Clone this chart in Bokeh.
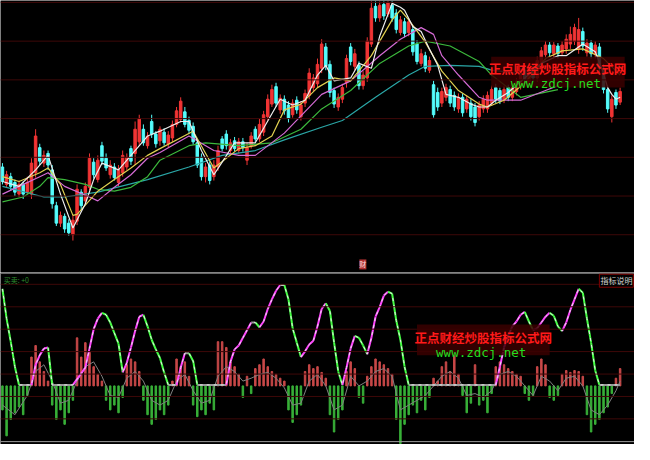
from bokeh.plotting import figure
from bokeh.layouts import column
from bokeh.models import Range1d, Span, Label, BoxAnnotation, ColumnDataSource
from bokeh.embed import file_html
from bokeh.resources import INLINE

# ---------------- price candles (one per trading day) ----------------
opens = [12.8, 11.0, 11.8, 11.2, 10.0, 11.0, 10.2, 10.0, 12.2, 14.8,
         13.2, 14.2, 12.5, 8.8, 7.0, 7.7, 7.0, 5.8, 7.2, 10.2,
         9.3, 10.7, 13.3, 11.5, 15.0, 13.7, 12.0, 12.8, 11.2, 12.2,
         12.8, 14.7, 14.2, 15.4, 16.7, 15.0, 17.5, 16.2, 15.5, 16.4,
         15.2, 15.8, 17.2, 17.7, 18.5, 17.6, 17.0, 15.3, 13.8, 11.8,
         13.0, 11.8, 12.8, 15.7, 16.2, 14.5, 15.5, 14.5, 15.4, 13.5,
         15.0, 16.7, 15.7, 16.4, 18.0, 19.3, 21.1, 18.7, 19.8, 19.2,
         18.2, 19.7, 18.0, 19.4, 20.2, 21.0, 21.4, 23.0, 25.2, 23.4,
         20.7, 19.0, 19.8, 21.5, 25.2, 23.2, 23.3, 21.2, 22.0, 25.5,
         29.4, 28.2, 29.6, 28.6, 29.5, 28.7, 26.7, 27.8, 26.7, 27.0,
         25.5, 23.5, 24.3, 22.8, 21.3, 20.5, 19.4, 20.0, 20.8, 20.2,
         18.8, 20.0, 18.8, 19.4, 19.0, 18.0, 18.8, 18.8, 19.4, 21.0,
         20.7, 19.8, 21.0, 20.0, 20.6, 21.2, 22.8, 21.6, 23.0, 22.0,
         23.4, 24.4, 25.4, 24.5, 25.3, 24.6, 25.0, 25.5, 25.8, 25.0,
         26.8, 24.6, 25.6, 24.5, 25.2, 23.0, 20.8, 18.0, 20.5, 19.5]
closes = [11.3, 12.0, 10.8, 10.2, 11.0, 10.0, 11.2, 13.2, 16.0, 13.4,
          14.0, 13.0, 9.0, 7.0, 7.8, 6.4, 6.0, 7.3, 10.5, 8.8,
          10.8, 13.7, 12.0, 13.5, 13.4, 12.7, 13.0, 11.7, 12.5, 14.0,
          13.8, 13.4, 16.7, 17.8, 15.3, 16.0, 16.2, 15.2, 16.7, 15.3,
          16.1, 17.2, 18.6, 19.6, 17.2, 16.6, 15.4, 13.0, 11.8, 12.8,
          11.4, 13.0, 14.5, 14.7, 15.0, 15.3, 14.7, 15.4, 14.8, 14.8,
          16.0, 15.7, 17.2, 18.2, 19.8, 20.8, 19.4, 19.9, 18.6, 17.8,
          19.4, 18.7, 19.2, 20.4, 22.5, 22.0, 23.4, 25.5, 23.2, 20.5,
          19.3, 20.0, 21.0, 24.0, 23.7, 24.5, 21.2, 22.3, 25.8, 29.2,
          28.2, 29.5, 28.4, 29.8, 28.2, 27.0, 28.0, 26.6, 27.8, 24.7,
          23.7, 24.5, 23.0, 23.8, 18.2, 19.0, 20.6, 21.0, 19.4, 19.0,
          20.0, 18.4, 19.8, 18.0, 17.4, 19.2, 19.8, 20.2, 20.8, 19.8,
          19.6, 20.8, 20.0, 21.0, 21.6, 22.6, 21.8, 23.0, 22.0, 23.8,
          24.8, 25.4, 24.6, 25.4, 24.5, 25.4, 26.0, 26.5, 27.2, 27.0,
          25.3, 25.6, 24.5, 25.4, 23.0, 20.8, 18.8, 19.8, 19.2, 20.6]
highs = [13.2, 12.4, 12.2, 11.5, 11.4, 11.3, 11.8, 13.7, 16.7, 15.2,
         14.5, 14.5, 13.0, 9.2, 8.2, 8.0, 7.4, 7.8, 11.0, 10.5,
         11.2, 14.2, 13.7, 14.0, 15.4, 14.2, 13.5, 13.2, 13.0, 14.5,
         14.2, 15.0, 17.5, 18.2, 17.2, 16.4, 18.2, 16.5, 17.0, 16.8,
         16.5, 17.6, 19.0, 20.0, 19.0, 18.0, 17.4, 15.7, 14.2, 13.2,
         13.4, 13.5, 15.0, 16.0, 16.6, 15.7, 15.9, 15.8, 15.8, 15.3,
         16.4, 17.0, 17.8, 18.6, 20.3, 21.3, 21.5, 20.3, 20.2, 19.6,
         19.8, 20.1, 19.6, 20.8, 23.0, 22.4, 24.0, 26.0, 25.6, 23.8,
         21.0, 20.4, 21.4, 24.4, 25.6, 25.0, 23.7, 22.7, 26.2, 29.9,
         29.9, 29.9, 29.9, 29.9, 29.9, 29.1, 28.4, 28.2, 28.2, 27.4,
         25.9, 25.0, 24.7, 24.2, 21.7, 21.0, 21.0, 21.4, 21.2, 20.6,
         20.4, 20.4, 20.2, 19.8, 19.4, 19.6, 20.2, 20.6, 21.2, 21.4,
         21.0, 21.2, 21.3, 21.4, 22.0, 23.0, 23.2, 23.4, 23.4, 24.2,
         25.2, 25.8, 25.7, 25.7, 25.6, 25.8, 26.5, 27.3, 27.6, 28.2,
         27.2, 26.0, 25.9, 25.8, 25.6, 23.4, 21.2, 20.2, 20.8, 21.0]
lows = [11.0, 10.7, 10.4, 9.8, 9.7, 9.5, 10.0, 9.5, 11.7, 13.0,
        12.8, 12.5, 8.5, 6.7, 6.6, 6.0, 5.7, 5.2, 6.8, 8.4,
        9.0, 10.4, 11.6, 11.2, 13.0, 12.4, 11.6, 11.4, 10.8, 11.8,
        12.5, 13.0, 13.0, 15.0, 15.0, 14.7, 15.8, 14.8, 15.0, 15.0,
        14.8, 15.4, 16.9, 17.4, 16.9, 16.2, 15.1, 12.7, 11.4, 11.2,
        11.0, 11.4, 12.4, 14.4, 14.6, 14.2, 14.4, 14.2, 14.4, 13.0,
        14.7, 15.4, 15.4, 16.0, 17.6, 19.0, 19.0, 18.3, 18.2, 17.4,
        17.9, 18.3, 17.6, 19.0, 19.8, 20.6, 21.0, 22.5, 22.8, 20.0,
        18.9, 18.6, 19.4, 21.0, 23.3, 22.8, 20.8, 20.8, 21.6, 25.2,
        27.8, 27.8, 28.0, 28.3, 27.8, 26.6, 26.4, 26.2, 26.3, 24.3,
        23.4, 23.2, 22.6, 22.5, 17.9, 18.6, 19.0, 19.6, 19.0, 18.6,
        18.4, 18.0, 18.4, 17.6, 17.0, 17.6, 18.4, 18.4, 19.1, 19.4,
        19.3, 19.4, 19.6, 19.6, 20.2, 20.8, 21.4, 21.2, 21.6, 21.6,
        23.0, 23.8, 24.2, 24.0, 24.0, 24.3, 24.5, 25.0, 25.4, 24.5,
        24.8, 24.2, 24.0, 24.0, 22.5, 20.4, 18.4, 17.4, 18.8, 19.2]

# ---------------- moving averages (read at sparse days) ----------------
ma5_day = [0, 4, 8, 11, 14, 17, 20, 22, 24, 28, 31, 35, 38, 43, 45, 48, 51, 53, 56, 61,
           65, 67, 70, 73, 76, 78, 80, 84, 86, 89, 91, 94, 96, 97, 99, 101, 103, 105, 107, 110,
           113, 115, 117, 119, 122, 126, 130, 134, 136, 140, 143, 145, 146, 147, 148, 149]
ma5_val = [11.3, 10.8, 12.5, 14.0, 10.0, 6.5, 9.0, 11.5, 13.2, 12.5, 14.0, 16.0, 16.5, 17.5, 17.5, 14.5, 12.0, 13.3, 15.3, 15.3,
           18.3, 19.8, 19.2, 19.7, 22.3, 23.3, 21.7, 22.0, 23.5, 23.0, 26.3, 29.7, 29.3, 29.0, 27.3, 26.8, 25.0, 23.3, 20.3, 20.0,
           19.3, 19.0, 19.0, 19.7, 20.5, 22.0, 23.5, 24.3, 24.3, 25.5, 24.7, 22.5, 21.0, 20.3, 19.8, 20.0]
ma10_day = [0, 4, 9, 11, 14, 17, 18, 23, 27, 31, 35, 38, 46, 51, 57, 61, 65, 68, 72, 76,
            80, 84, 89, 94, 96, 98, 102, 106, 110, 115, 117, 121, 126, 131, 135, 140, 145, 149]
ma10_val = [11.8, 11.3, 12.2, 12.7, 11.0, 7.8, 7.9, 10.3, 11.5, 12.7, 14.0, 14.7, 16.5, 12.7, 14.7, 15.0, 16.0, 18.7, 19.3, 21.0,
            22.0, 21.7, 24.3, 28.0, 29.0, 28.0, 25.7, 22.7, 20.7, 19.3, 19.0, 19.7, 21.5, 24.0, 24.8, 25.0, 24.0, 22.3]
ma20_day = [0, 4, 9, 11, 15, 21, 23, 27, 31, 35, 38, 45, 51, 57, 61, 68, 77, 84, 91, 96,
            101, 104, 106, 110, 115, 117, 125, 131, 134]
ma20_val = [10.0, 10.8, 11.8, 12.2, 10.8, 9.7, 9.3, 10.7, 12.0, 13.7, 14.3, 16.0, 14.5, 14.0, 14.0, 16.3, 20.3, 21.7, 24.3, 26.0,
            27.2, 26.5, 24.3, 22.3, 20.0, 19.7, 19.7, 20.7, 21.2]
ma30_day = [0, 5, 9, 11, 15, 20, 23, 27, 31, 35, 38, 45, 49, 57, 65, 72, 77, 84, 91, 98,
            102, 108, 115, 118, 125, 134]
ma30_val = [9.2, 9.7, 10.8, 11.7, 11.5, 11.0, 10.5, 10.3, 10.7, 11.8, 13.5, 15.0, 15.3, 15.0, 15.3, 16.7, 18.8, 20.7, 23.5, 25.3,
            25.8, 25.3, 23.7, 22.3, 20.0, 20.8]
ma60_day = [0, 10, 15, 23, 35, 45, 53, 61, 68, 77, 82, 90, 98, 102, 108, 115, 118, 126]
ma60_val = [10.8, 9.7, 9.7, 10.2, 11.5, 12.8, 14.0, 14.5, 15.6, 16.9, 17.6, 20.0, 22.3, 23.2, 23.3, 23.2, 22.8, 22.4]

# ---------------- 买卖 indicator ----------------
hist = [-25, -52, -35, -28, -22, -30, -10, 30, 42, 25,
        15, 5, -20, -35, -25, -40, -28, -15, 50, 30,
        45, 35, 20, 12, 5, -15, -25, -20, -28, -12,
        22, 28, 25, 15, -15, -30, -40, -35, -25, -30,
        -20, 5, 28, 20, 25, 10, -20, -32, -25, -30,
        -18, -25, 46, 46, 40, 25, 20, 12, -12, 10,
        -8, 18, 22, 28, 20, 15, 12, 8, 5, -25,
        -38, -30, -20, 15, 22, 18, 20, 14, 8, -30,
        -48, -35, -25, 15, 25, 18, -12, -18, 10, 20,
        28, 25, 22, 18, 12, -35, -60, -40, -30, -20,
        -28, -15, -25, -12, 8, 5, 20, 25, 15, 32,
        12, -10, -28, -18, 22, -20, -15, -28, -8, 20,
        25, 22, 18, 15, 12, 10, -8, -15, -10, 20,
        28, 22, -12, -15, -10, 12, 16, 14, 16, 15,
        10, -30, -48, -40, -35, -28, -22, -8, 8, 18]
curve_day = [0, 1, 2, 3, 4, 7, 8, 9, 10, 11, 12, 17, 20, 21, 22, 23, 24, 25, 26, 27,
             28, 29, 30, 31, 32, 33, 34, 35, 36, 37, 38, 39, 40, 42, 43, 44, 45, 46, 47, 54,
             55, 56, 57, 58, 59, 60, 61, 62, 63, 64, 65, 66, 67, 68, 69, 70, 71, 72, 73, 74,
             75, 76, 77, 78, 79, 80, 81, 82, 83, 84, 85, 86, 87, 88, 89, 90, 91, 92, 93, 94,
             95, 96, 97, 98, 119, 120, 121, 122, 123, 124, 125, 126, 127, 128, 129, 130, 131, 132, 133, 134,
             135, 136, 137, 138, 139, 140, 141, 142, 143, 144, 149]
curve_val = [101, 70, 46, 20, 1, 1, 22, 32, 39, 40, 1, 1, 19, 39, 59, 70, 76, 74, 66, 55,
             44, 14, 24, 40, 57, 72, 74, 62, 48, 38, 29, 14, 1, 1, 19, 34, 34, 26, 1, 1,
             25, 38, 42, 50, 58, 66, 66, 61, 67, 80, 90, 99, 105, 105, 90, 60, 45, 30, 36, 43,
             47, 62, 80, 86, 78, 45, 15, 1, 19, 39, 52, 50, 42, 33, 50, 72, 82, 94, 98, 96,
             68, 48, 20, 1, 1, 20, 40, 52, 62, 67, 74, 77, 67, 58, 60, 66, 72, 76, 73, 62,
             57, 66, 79, 90, 101, 97, 70, 45, 16, 1, 1]
sig_day = [0, 3, 6, 8, 10, 12, 14, 16, 18, 20, 22, 24, 26, 28, 30, 32, 34, 36, 38, 40,
           42, 44, 46, 48, 50, 52, 54, 56, 58, 60, 62, 64, 66, 68, 70, 72, 74, 76, 78, 80,
           82, 84, 86, 88, 90, 92, 94, 96, 98, 100, 102, 104, 106, 108, 110, 112, 114, 116, 118, 120,
           122, 124, 126, 128, 130, 132, 134, 136, 138, 140, 142, 144, 146, 148, 149]
sig_val = [-20, -30, -10, 15, 22, 5, -18, -15, 5, 20, 25, 10, -10, -12, 8, 15, 5, -15, -20, -15,
           5, 12, -5, -18, -15, 10, 20, 15, 5, 8, 12, 14, 8, -2, -20, -18, 5, 12, 0, -25,
           -20, 10, 0, 5, 15, 18, 10, -25, -20, -15, -10, 0, 10, 15, 8, -10, -8, -12, -5, 12,
           15, 10, 0, -10, 10, 5, -5, 8, 10, 0, -25, -30, -20, -5, 5]

N = len(opens)
days = list(range(N))

W = 634
H_TOP = 272
H_BOT = 172
xr = Range1d(-0.47, 152.47)

BG = "#000000"
GRID = "#3e0808"
UP = "#f03434"
DOWN = "#54fcfc"
CJK = "Noto Sans CJK SC"

# ---------------- top: K-line ----------------
pt = figure(width=W, height=H_TOP, x_range=xr, y_range=Range1d(1.9, 30.0),
            x_axis_type=None, y_axis_type=None, output_backend="svg",
            toolbar_location=None, min_border=0, background_fill_color=BG,
            border_fill_color=BG, outline_line_color=None)

for g in [29.8, 25.8, 21.8, 17.8, 13.8, 9.8, 5.8]:
    pt.add_layout(Span(location=g, dimension="width", line_color=GRID, line_width=1))

cols = [UP if c >= o else DOWN for o, c in zip(opens, closes)]
src = ColumnDataSource(dict(
    x=days, o=opens, c=closes, h=highs, l=lows,
    top=[max(o, c) for o, c in zip(opens, closes)],
    bot=[min(o, c) for o, c in zip(opens, closes)],
    col=cols))
pt.segment(x0="x", y0="h", x1="x", y1="l", line_color="col", line_width=1, source=src)
pt.vbar(x="x", width=0.6, top="top", bottom="bot", fill_color="col", line_color="col", source=src)

pt.line(ma60_day, ma60_val, line_color="#2aa6a6", line_width=1.2)
pt.line(ma30_day, ma30_val, line_color="#3cb83c", line_width=1.2)
pt.line(ma20_day, ma20_val, line_color="#d46ad4", line_width=1.2)
pt.line(ma10_day, ma10_val, line_color="#e0d050", line_width=1.2)
pt.line(ma5_day, ma5_val, line_color="#eeeeee", line_width=1.2)

pt.add_layout(BoxAnnotation(left=117.9, right=150.1, top=24.2, bottom=21.0,
                            fill_color="#3a0000", fill_alpha=0.85, line_color=None))
pt.add_layout(Label(x=133.9, y=24.0, text="正点财经炒股指标公式网", text_align="center",
                    text_baseline="top", text_color="#ff1a1a", text_font_size="12.5px",
                    text_font=CJK, text_font_style="bold"))
pt.add_layout(Label(x=133.5, y=22.15, text="www.zdcj.net", text_align="center",
                    text_baseline="top", text_color="#22dd22", text_font_size="12.5px",
                    text_font="DejaVu Sans Mono"))
pt.add_layout(Label(x=86.1, y=3.25, text="财", text_align="left", text_baseline="top",
                    text_color="#ffe0e0", text_font_size="7px", text_font=CJK,
                    background_fill_color="#b03030", padding=0))

# ---------------- bottom: indicator ----------------
pb = figure(width=W, height=H_BOT, x_range=xr, y_range=Range1d(-61, 118),
            x_axis_type=None, y_axis_type=None, output_backend="svg",
            toolbar_location=None, min_border=0, background_fill_color=BG,
            border_fill_color=BG, outline_line_color=None)

for g in [105.7, 82.3, 59.0, 35.7, 12.3, -11.0, -34.3]:
    pb.add_layout(Span(location=g, dimension="width", line_color=GRID, line_width=1))
pb.add_layout(Span(location=117.3, dimension="width", line_color="#9a9a9a", line_width=1))
pb.add_layout(Span(location=-58.0, dimension="width", line_color="#9a9a9a", line_width=1))

hcol = ["#c84848" if v > 0 else "#38b038" for v in hist]
pb.vbar(x=days, width=0.36, top=hist, bottom=0, fill_color=hcol, line_color=hcol)
pb.line(sig_day, sig_val, line_color="#808080", line_width=1)

x0s, y0s, x1s, y1s, ccols = [], [], [], [], []
for k in range(len(curve_day) - 1):
    a, b = curve_val[k], curve_val[k + 1]
    x0s.append(curve_day[k]); y0s.append(a)
    x1s.append(curve_day[k + 1]); y1s.append(b)
    if b > a + 0.5:
        ccols.append("#ff44ff")
    elif b < a - 0.5:
        ccols.append("#44ff44")
    else:
        ccols.append("#9a9a9a")
pb.segment(x0=x0s, y0=y0s, x1=x1s, y1=y1s, line_color=ccols, line_width=2)
pb.line(curve_day, curve_val, line_color="#e8e8e8", line_width=1, line_dash="3 4")

pb.add_layout(BoxAnnotation(left=100.0, right=132.0, top=64.0, bottom=32.0,
                            fill_color="#3a0000", fill_alpha=0.85, line_color=None))
pb.add_layout(Label(x=116.0, y=60.5, text="正点财经炒股指标公式网", text_align="center",
                    text_baseline="top", text_color="#ff1a1a", text_font_size="12.5px",
                    text_font=CJK, text_font_style="bold"))
pb.add_layout(Label(x=115.5, y=43.0, text="www.zdcj.net", text_align="center",
                    text_baseline="top", text_color="#22dd22", text_font_size="12.5px",
                    text_font="DejaVu Sans Mono"))
pb.add_layout(Label(x=0.3, y=115.5, text="买卖: +0", text_align="left", text_baseline="top",
                    text_color="#2f8f2f", text_font_size="7px", text_font=CJK))
pb.add_layout(Label(x=144.0, y=116.2, text="指标说明", text_align="left", text_baseline="top",
                    text_color="#d0d0d0", text_font_size="8px", text_font=CJK,
                    border_line_color="#800000", background_fill_color="#000000",
                    padding=1))

layout = column(pt, pb, spacing=0)
open("out.html", "w").write(file_html(layout, INLINE))
